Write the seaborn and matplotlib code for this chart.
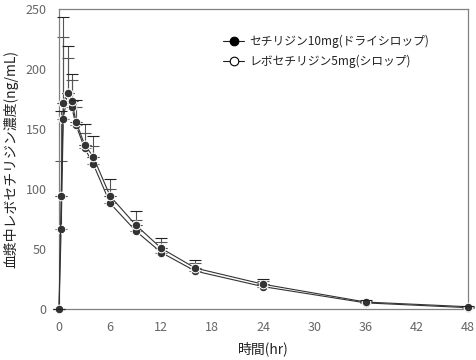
import numpy as np
import pandas as pd
import matplotlib
matplotlib.use("Agg")
import matplotlib.pyplot as plt
import seaborn as sns

sns.set_theme(style="white")
plt.rcParams['font.family'] = ['Noto Sans CJK JP', 'DejaVu Sans']

time_hr = [0, 0.25, 0.5, 1, 1.5, 2, 3, 4, 6, 9, 12, 16, 24, 36, 48]
ceti_mean = [0, 67, 158, 180, 168, 153, 134, 121, 88, 65, 47, 31.5, 18.5, 5, 1]
ceti_sd = [0, 56, 69, 29, 23, 15, 13, 15, 12, 9.5, 8.5, 6.5, 4.5, 1.5, 0.5]
levo_mean = [0, 94, 172, 180, 173, 156, 137, 127, 94, 70, 50.5, 34, 20.5, 5.7, 1.8]
levo_sd = [0, 71, 71, 39, 23, 18, 17, 17, 14, 11.5, 9, 7, 4.5, 1.5, 0.5]
labels = ["セチリジン10mg(ドライシロップ)", "レボセチリジン5mg(シロップ)"]
xticks = [0, 6, 12, 18, 24, 30, 36, 42, 48]
yticks = [0, 50, 100, 150, 200, 250]

df = pd.DataFrame({
    "time": time_hr * 2,
    "conc": ceti_mean + levo_mean,
    "drug": [labels[0]] * len(time_hr) + [labels[1]] * len(time_hr),
})

fig, ax = plt.subplots(figsize=(4.76, 3.6), dpi=100)
fig.subplots_adjust(left=0.124, right=0.983, bottom=0.142, top=0.975)

# error bars (upper only)
for mean, sd in [(levo_mean, levo_sd), (ceti_mean, ceti_sd)]:
    ax.errorbar(time_hr, mean, yerr=[np.zeros(len(sd)), sd], fmt="none",
                ecolor="#555555", elinewidth=0.8, capsize=4.5, capthick=0.8,
                zorder=1, clip_on=False)

sns.lineplot(data=df, x="time", y="conc", hue="drug", style="drug",
             hue_order=labels, style_order=labels,
             palette=["#333333", "#333333"], markers=["o", "o"], dashes=False,
             linewidth=0.8, markersize=6.2, ax=ax, zorder=3, legend=True)

for ln in ax.get_lines():
    ln.set_clip_on(False)
data_lines = [l for l in ax.get_lines() if len(l.get_xdata()) == len(time_hr)]
data_lines[0].set_markerfacecolor("black")
data_lines[0].set_markeredgecolor("black")
data_lines[0].set_markeredgewidth(0.8)
data_lines[1].set_markerfacecolor("white")
data_lines[1].set_markeredgecolor("#222222")
data_lines[1].set_markeredgewidth(0.8)
data_lines[1].set_zorder(4)

ax.set_xlim(0, 48)
ax.set_ylim(0, 250)
ax.set_xticks(xticks)
ax.set_yticks(yticks)
ax.tick_params(axis="both", direction="in", length=4, width=0.8,
               colors="#777777", labelsize=9, labelcolor="#666666", pad=9)
for s in ax.spines.values():
    s.set_color("#808080")
    s.set_linewidth(0.9)

ax.set_xlabel("時間(hr)", fontsize=10, color="#222222", labelpad=5)
ax.set_ylabel("血漿中レボセチリジン濃度(ng/mL)", fontsize=10, color="#222222", labelpad=5)

handles, lbls = ax.get_legend_handles_labels()
leg = ax.legend(handles, lbls, loc="upper left", bbox_to_anchor=(0.39, 0.93),
                frameon=False, fontsize=8.5, handlelength=1.8, handletextpad=0.4,
                labelspacing=0.6, borderaxespad=0)
for h in leg.legend_handles:
    h.set_color("#222222")
    h.set_markeredgewidth(0.8)
leg.legend_handles[0].set_markerfacecolor("black")
leg.legend_handles[1].set_markerfacecolor("white")
leg.legend_handles[0].set_markeredgecolor("black")
leg.legend_handles[1].set_markeredgecolor("black")
for t in leg.get_texts():
    t.set_color("#222222")

fig.savefig("out.png", dpi=100)
